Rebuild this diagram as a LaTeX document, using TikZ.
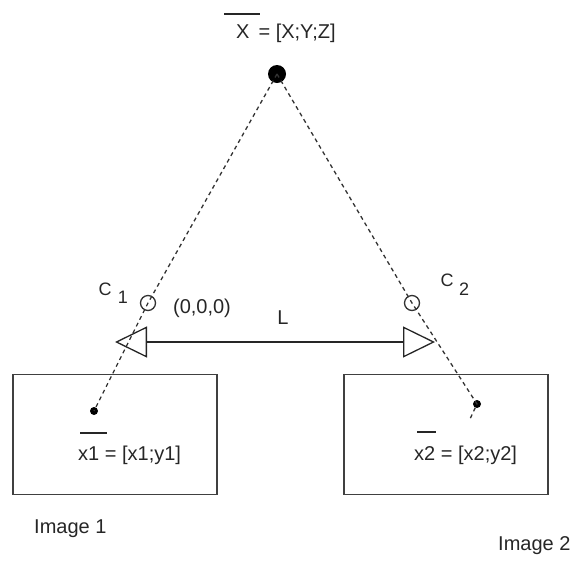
\documentclass[tikz,border=0pt]{standalone}
\usepackage{fontspec}
\setmainfont{Liberation Sans}
\usetikzlibrary{arrows.meta}
\begin{document}
\begin{tikzpicture}[x=1pt,y=-1pt,
  lbl/.style={inner sep=0pt,font=\fontsize{20}{24}\selectfont,text=black!85},
  sublbl/.style={inner sep=0pt,font=\fontsize{18}{21}\selectfont,text=black!85},
  ray/.style={dashed,dash pattern=on 4pt off 3.5pt,line width=1.3pt,draw=black!80},
  frame/.style={draw=black!75,line width=1.3pt},
  bar/.style={draw=black!85,line width=1.2pt},
  camera/.style={circle,draw=black!80,line width=1.3pt,minimum size=15pt,inner sep=0pt},
  point/.style={circle,fill=black,inner sep=0pt},
  baseline arrow/.style={line width=1.3pt,draw=black!85,
    {Triangle[open,length=32pt,width=31pt]}-{Triangle[open,length=32pt,width=31pt]}}
]
\useasboundingbox (0,0) rectangle (577,563);

% image planes
\node[frame,minimum width=204pt,minimum height=120pt,inner sep=0pt] (img1) at (115,434.5) {};
\node[frame,minimum width=204pt,minimum height=120pt,inner sep=0pt] (img2) at (446,434.5) {};

% world point and its projections
\node[point,minimum size=18pt] (Xw) at (277,74) {};
\node[point,minimum size=8pt] (p1) at (94,411) {};
\node[point,minimum size=8pt] (p2) at (477,404) {};
\coordinate (tail) at (470,419);

% camera centres
\node[camera] (c1) at (148,303) {};
\node[camera] (c2) at (412,303) {};

% baseline between the cameras
\coordinate (bl) at (115,342);
\coordinate (br) at (435,342);
\draw[baseline arrow] (bl) -- (br);

% projection rays
\draw[ray] (Xw.center) -- (c1.center) -- (p1.center);
\draw[ray] (Xw.center) -- (c2.center) -- (p2.center) -- (tail);

% labels
\node[lbl,anchor=base west] (Xlbl) at (236,38) {X\hspace{9pt}= [X;Y;Z]};
\draw[bar] (224,14) -- (260,14);

\node[sublbl] (C1a) at (105,289) {C};
\node[sublbl] (C1b) at (123,297) {1};
\node[sublbl] (C2a) at (447,280) {C};
\node[sublbl] (C2b) at (464,289) {2};

\node[lbl] (origin) at (202,308) {(0,0,0)};
\node[lbl] (Lbl) at (283,318) {L};

\node[lbl,anchor=base west] (x1lbl) at (78,460) {x1 = [x1;y1]};
\draw[bar] (80,433) -- (107,433);
\node[lbl,anchor=base west] (x2lbl) at (414,460) {x2 = [x2;y2]};
\draw[bar] (417,432) -- (436,432);

\node[lbl,anchor=base west] (im1) at (34,533) {Image 1};
\node[lbl,anchor=base west] (im2) at (498,550) {Image 2};
\end{tikzpicture}
\end{document}
